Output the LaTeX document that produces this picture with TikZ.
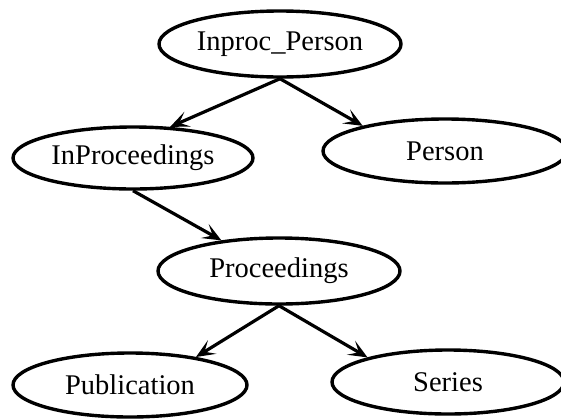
\documentclass[tikz,border=0pt]{standalone}
\usepackage{fontspec}
\setmainfont{Liberation Serif}
\usetikzlibrary{shapes.geometric,arrows.meta}
\begin{document}
\begin{tikzpicture}[x=1pt,y=-1pt,
  entity/.style={ellipse,draw=black,line width=3.4pt,inner sep=0pt,
    font=\fontsize{28.5}{34}\selectfont},
  link/.style={draw=black,line width=3.2pt,
    -{Stealth[length=19pt,width=16pt,inset=9pt]}}]
\useasboundingbox (0,0) rectangle (561,418);
\clip (0,0) rectangle (561,418);
\fill[white] (0,0) rectangle (561,418);

\node[entity,minimum width=242pt,minimum height=66pt] (ip)  at (280,44)  {Inproc\_Person};
\node[entity,minimum width=240pt,minimum height=62pt] (inp) at (133,158) {InProceedings};
\node[entity,minimum width=244pt,minimum height=64pt] (per) at (445,151) {Person};
\node[entity,minimum width=242pt,minimum height=66pt] (pro) at (279,271) {Proceedings};
\node[entity,minimum width=234pt,minimum height=64pt] (pub) at (130,385) {Publication};
\node[entity,minimum width=232pt,minimum height=64pt] (ser) at (448,382) {Series};

\draw[link] (ip.south)  -- (inp.40);
\draw[link] (ip.south)  -- (per.163);
\draw[link] (inp.south) -- (pro.152);
\draw[link] (pro.south) -- (pub.23);
\draw[link] (pro.south) -- (ser.163);
\end{tikzpicture}
\end{document}
